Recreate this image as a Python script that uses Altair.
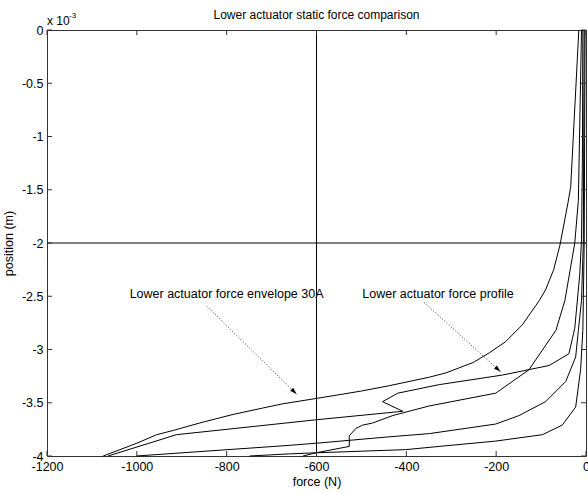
import math
import altair as alt
import pandas as pd

# ---------------- data (force in N, position in 1e-3 m) ----------------
env_x = [-1075, -1000, -956, -919, -860, -786, -720, -675, -601, -500, -438, -349, -312,
         -250, -215, -180, -142, -104, -90, -72, -58, -40, -34, -16]
env_y = [-4.0, -3.88, -3.80, -3.76, -3.69, -3.61, -3.55, -3.51, -3.46, -3.39, -3.34, -3.26, -3.22,
         -3.12, -3.03, -2.93, -2.77, -2.54, -2.44, -2.25, -2.02, -1.62, -1.47, 0.0]

prof_x = [-1064, -912, -601, -408, -453, -419, -327, -186, -82, -38, -25, -14, -10, -8, -7]
prof_y = [-4.0, -3.80, -3.66, -3.58, -3.49, -3.41, -3.33, -3.24, -3.15, -3.04, -2.80, -2.30, -1.97, -1.2, 0.0]

c3_x = [-1001, -660, -601, -438, -349, -201, -149, -90, -45, -23, -17, -10, -6, -4]
c3_y = [-4.0, -3.90, -3.88, -3.82, -3.79, -3.70, -3.62, -3.49, -3.30, -3.07, -2.82, -2.54, -2.0, 0.0]

c4_x = [-630, -601, -527, -527, -512, -497, -475, -430, -349, -201, -127, -67, -47, -25, -17, -10]
c4_y = [-4.0, -3.97, -3.91, -3.81, -3.74, -3.71, -3.69, -3.62, -3.53, -3.41, -3.19, -2.82, -2.54, -2.0, -1.6, 0.0]

c5_x = [-749, -660, -601, -401, -327, -201, -97, -53, -23, -12, -7, -4, -2]
c5_y = [-4.0, -3.98, -3.97, -3.94, -3.91, -3.86, -3.80, -3.71, -3.54, -3.19, -2.82, -2.0, 0.0]

cross_x = [-600]
cross_y = [-2.0]

x_ticks = [-1200, -1000, -800, -600, -400, -200, 0]
y_ticks = [-4, -3.5, -3, -2.5, -2, -1.5, -1, -0.5, 0]

ann_text = ["Lower actuator force envelope 30A", "Lower actuator force profile"]
ann_x = [-1016, -498]
ann_y = [-2.48, -2.48]

arr_x1 = [-845, -360]
arr_y1 = [-2.59, -2.56]
arr_x2 = [-644, -190]
arr_y2 = [-3.42, -3.21]

# ---------------- build tables ----------------
W, H = 539, 426
FONT = "Liberation Sans"
FS = 12.5

rows = []
for name, xs, ys in [("envelope", env_x, env_y), ("profile", prof_x, prof_y),
                     ("c3", c3_x, c3_y), ("c4", c4_x, c4_y), ("c5", c5_x, c5_y)]:
    for i, (a, b) in enumerate(zip(xs, ys)):
        rows.append({"curve": name, "idx": i, "force": a, "pos": b})
lines_df = pd.DataFrame(rows)

sx = W / 1200.0
sy = H / 4.0
angles = []
for a1, b1, a2, b2 in zip(arr_x1, arr_y1, arr_x2, arr_y2):
    th = math.degrees(math.atan2(-(b2 - b1) * sy, (a2 - a1) * sx))
    angles.append((th + 90) % 360)
arr_df = pd.DataFrame({"x1": arr_x1, "y1": arr_y1, "x2": arr_x2, "y2": arr_y2, "ang": angles})
ann_df = pd.DataFrame({"t": ann_text, "x": ann_x, "y": ann_y})
xt_df = pd.DataFrame({"t": x_ticks})
yt_df = pd.DataFrame({"t": y_ticks})

xscale = alt.Scale(domain=[-1200, 0], nice=False, zero=False)
yscale = alt.Scale(domain=[-4, 0], nice=False, zero=False)

xaxis = alt.Axis(values=x_ticks, title="force (N)", labelExpr="'' + datum.value",
                 ticks=False, domain=False, grid=False, labelPadding=4, titlePadding=3,
                 labelFont=FONT, labelFontSize=FS, titleFont=FONT, titleFontSize=FS,
                 titleFontWeight="normal", labelColor="black", titleColor="black",
                 labelFlush=False)
yaxis = alt.Axis(values=y_ticks, title="position (m)", labelExpr="'' + datum.value",
                 ticks=False, domain=False, grid=False, labelPadding=4, titlePadding=6,
                 labelFont=FONT, labelFontSize=FS, titleFont=FONT, titleFontSize=FS,
                 titleFontWeight="normal", labelColor="black", titleColor="black",
                 labelFlush=False)

base_lines = alt.Chart(lines_df).mark_line(color="black", strokeWidth=1).encode(
    x=alt.X("force:Q", scale=xscale, axis=xaxis),
    y=alt.Y("pos:Q", scale=yscale, axis=yaxis),
    detail="curve:N",
    order="idx:Q",
)

vline = alt.Chart(pd.DataFrame({"v": cross_x})).mark_rule(color="black", strokeWidth=1).encode(
    x=alt.X("v:Q", scale=xscale))
hline = alt.Chart(pd.DataFrame({"v": cross_y})).mark_rule(color="black", strokeWidth=1).encode(
    y=alt.Y("v:Q", scale=yscale))

tick_color = "#333333"
bt = alt.Chart(xt_df).mark_rule(color=tick_color, strokeWidth=1).encode(
    x=alt.X("t:Q", scale=xscale), y=alt.value(H), y2=alt.value(H - 5))
tt = alt.Chart(xt_df).mark_rule(color=tick_color, strokeWidth=1).encode(
    x=alt.X("t:Q", scale=xscale), y=alt.value(0), y2=alt.value(5))
lt = alt.Chart(yt_df).mark_rule(color=tick_color, strokeWidth=1).encode(
    y=alt.Y("t:Q", scale=yscale), x=alt.value(0), x2=alt.value(5))
rt = alt.Chart(yt_df).mark_rule(color=tick_color, strokeWidth=1).encode(
    y=alt.Y("t:Q", scale=yscale), x=alt.value(W - 5), x2=alt.value(W))

ann = alt.Chart(ann_df).mark_text(align="left", baseline="middle", font=FONT, fontSize=FS,
                                  color="black").encode(
    x=alt.X("x:Q", scale=xscale), y=alt.Y("y:Q", scale=yscale), text="t:N")

arrows = alt.Chart(arr_df).mark_rule(color="#333333", strokeWidth=1, strokeDash=[1, 2]).encode(
    x=alt.X("x1:Q", scale=xscale), x2="x2:Q",
    y=alt.Y("y1:Q", scale=yscale), y2="y2:Q")

heads = alt.Chart(arr_df).mark_point(shape="M0,0L-0.3,1L0.3,1Z", filled=True, size=200,
                                     color="black", opacity=1).encode(
    x=alt.X("x2:Q", scale=xscale), y=alt.Y("y2:Q", scale=yscale),
    angle=alt.Angle("ang:Q", scale=None))

title = alt.Chart(pd.DataFrame({"t": ["Lower actuator static force comparison"]})).mark_text(
    align="center", baseline="middle", font=FONT, fontSize=12, color="black").encode(
    x=alt.value(W / 2), y=alt.value(-15), text="t:N")

exp_main = alt.Chart(pd.DataFrame({"t": ["x 10"]})).mark_text(
    align="left", baseline="middle", font=FONT, fontSize=12, color="black").encode(
    x=alt.value(0), y=alt.value(-9), text="t:N")
exp_sup = alt.Chart(pd.DataFrame({"t": ["-3"]})).mark_text(
    align="left", baseline="middle", font=FONT, fontSize=8, color="black").encode(
    x=alt.value(22), y=alt.value(-14), text="t:N")

chart = alt.layer(
    base_lines, vline, hline, bt, tt, lt, rt, arrows, heads, ann, title, exp_main, exp_sup
).properties(
    width=W, height=H,
    autosize=alt.AutoSizeParams(type="none"),
    padding={"left": 47, "top": 30, "right": 2, "bottom": 37},
    background="white",
).configure_view(stroke="#333333", strokeWidth=1)

chart.save("out.html", embed_options={"renderer": "svg", "actions": False})
